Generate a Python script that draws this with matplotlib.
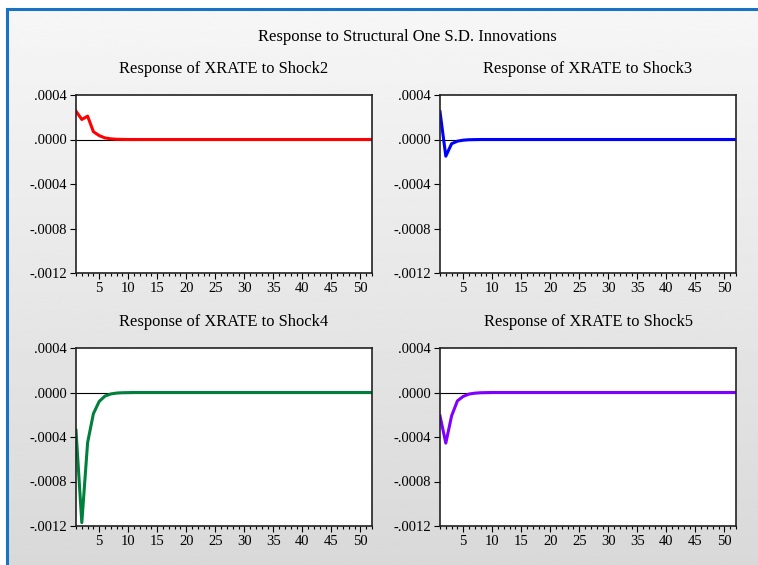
import numpy as np
import matplotlib

matplotlib.use("Agg")
import matplotlib.pyplot as plt
from matplotlib.lines import Line2D
from matplotlib.ticker import FuncFormatter, MultipleLocator

plt.rcParams["font.family"] = ["Liberation Serif", "DejaVu Serif"]

# impulse responses, periods 1..52 (zero after the decay)
periods = list(range(1, 53))
shock2 = [0.000255, 0.00018, 0.00021, 0.00007, 0.000035, 0.000014, 0.000006,
          0.000002, 0.000001] + [0.0] * 43
shock3 = [0.00025, -0.00015, -0.000038, -0.000015, -0.000006, -0.000002,
          -0.000001] + [0.0] * 45
shock4 = [-0.00034, -0.00117, -0.00045, -0.00019, -0.00008, -0.000032,
          -0.000013, -0.000005, -0.000002, -0.000001] + [0.0] * 42
shock5 = [-0.00021, -0.000455, -0.00021, -0.000075, -0.000035, -0.000014,
          -0.000006, -0.000002, -0.000001] + [0.0] * 43

titles = ["Response of XRATE to Shock2", "Response of XRATE to Shock3",
          "Response of XRATE to Shock4", "Response of XRATE to Shock5"]
series = [shock2, shock3, shock4, shock5]
colors = ["#ff0000", "#0000ff", "#00803c", "#8000ff"]
main_title = "Response to Structural One S.D. Innovations"

W, H = 758, 565
fig = plt.figure(figsize=(W / 100, H / 100), dpi=100)
fig.patch.set_facecolor("white")


def fx(px):
    return px / W


def fy(py):
    return 1 - py / H


# gray gradient background inside the blue frame
bg = fig.add_axes([fx(8), 0, 1 - fx(8), fy(9)])
grad = np.linspace(0.965, 0.85, 256).reshape(-1, 1)
bg.imshow(grad, aspect="auto", cmap="gray", vmin=0, vmax=1, extent=[0, 1, 0, 1])
bg.set_axis_off()

fig.add_artist(Line2D([fx(7), 1], [fy(9), fy(9)], color="#1a72c4", lw=2.2))
fig.add_artist(Line2D([fx(7), fx(7)], [0, fy(9)], color="#1a72c4", lw=2.2))

fig.text(fx(407), fy(37), main_title, ha="center", va="center", fontsize=12)

lefts = [76, 440]
tops = [95, 348]
pw, ph = 296, 178

fmt = FuncFormatter(lambda v, _: ("-" if v < -1e-12 else "") + f"{abs(v):.4f}".lstrip("0"))

for i, (vals, col, ttl) in enumerate(zip(series, colors, titles)):
    left = lefts[i % 2]
    top = tops[i // 2]
    ax = fig.add_axes([fx(left), fy(top + ph), pw / W, ph / H])
    ax.axhline(0, color="black", lw=0.8, zorder=1)
    ax.plot(periods, vals, color=col, lw=2.2, zorder=2)
    ax.set_xlim(1, 52)
    ax.set_ylim(-0.0012, 0.0004)
    ax.set_yticks([-0.0012, -0.0008, -0.0004, 0.0, 0.0004])
    ax.yaxis.set_major_formatter(fmt)
    ax.xaxis.set_major_locator(MultipleLocator(5))
    ax.xaxis.set_minor_locator(MultipleLocator(1))
    ax.tick_params(axis="both", which="major", direction="out", length=4,
                   width=0.8, labelsize=10.5, pad=2.5)
    ax.tick_params(axis="x", which="minor", direction="out", length=2.5, width=0.8)
    for s in ax.spines.values():
        s.set_linewidth(1.2)
        s.set_color("#222222")
    ax.set_facecolor("white")
    fig.text(fx(left + pw / 2), fy(top - 26), ttl, ha="center", va="center",
             fontsize=11.9)

fig.savefig("out.png", dpi=100)
